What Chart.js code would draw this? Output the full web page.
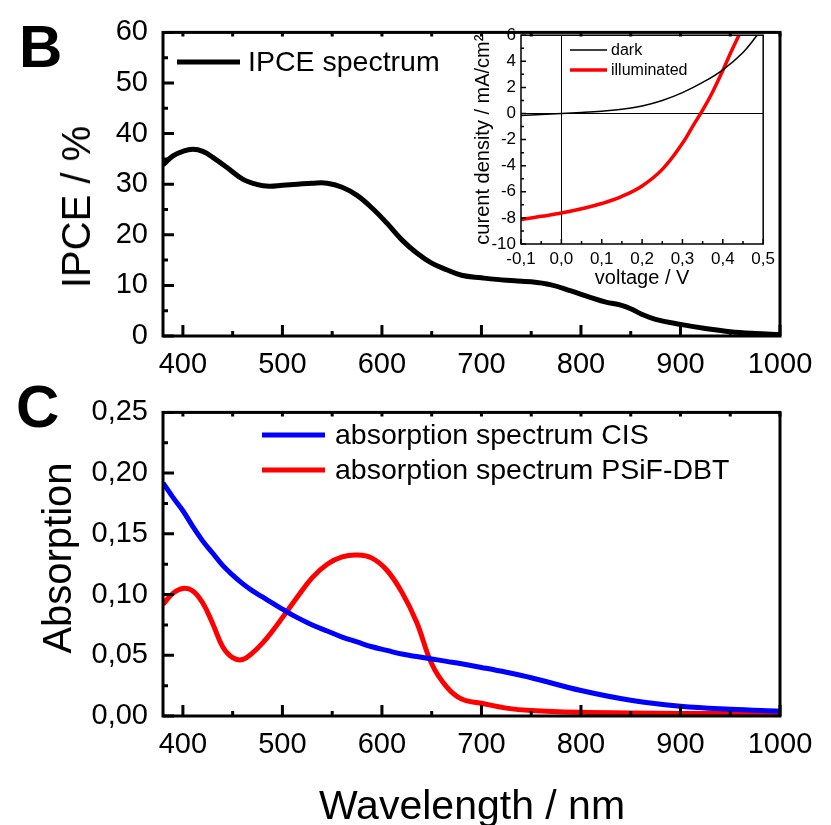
<!DOCTYPE html>
<html>
<head>
<meta charset="utf-8">
<script src="https://cdn.jsdelivr.net/npm/chart.js@4.4.1/dist/chart.umd.min.js"></script>
<style>
  html, body { margin: 0; padding: 0; background: #fff; }
  #wrap { position: relative; width: 831px; height: 825px; overflow: hidden; background: #fff; font-family: 'Liberation Sans', Arial, sans-serif; color: #000; }
  canvas { position: absolute; }
  .panel { position: absolute; font-weight: bold; font-size: 60px; line-height: 1; }
  .title { position: absolute; font-size: 40px; line-height: 1; white-space: nowrap; }
  .rot { transform: translate(-50%, -50%) rotate(-90deg); }
</style>
</head>
<body>
<div id="wrap">
  <canvas id="ipceChart" width="831" height="380" style="left:0;top:0"></canvas>
  <canvas id="absChart" width="831" height="445" style="left:0;top:380px"></canvas>
  <canvas id="jvChart" width="340" height="280" style="left:440px;top:20px"></canvas>
  <div class="panel" style="left:19px;top:17px">B</div>
  <div class="panel" style="left:16px;top:377px">C</div>
  <div class="title rot" style="left:76px;top:207px">IPCE / %</div>
  <div class="title rot" style="left:57px;top:558px">Absorption</div>
  <div class="title" style="left:472px;top:785px;font-size:41px;transform:translateX(-50%)">Wavelength / nm</div>
</div>
<script>
// ---- data ----
const wavelengthTicks = [400, 500, 600, 700, 800, 900, 1000];
const ipceTicks = [0, 10, 20, 30, 40, 50, 60];
const absTicks = [0, 0.05, 0.10, 0.15, 0.20, 0.25];
const absTickLabels = ['0,00', '0,05', '0,10', '0,15', '0,20', '0,25'];
const voltageTicks = [-0.1, 0, 0.1, 0.2, 0.3, 0.4, 0.5];
const voltageTickLabels = ['-0,1', '0,0', '0,1', '0,2', '0,3', '0,4', '0,5'];
const currentTicks = [-10, -8, -6, -4, -2, 0, 2, 4, 6];

const ipceWavelength = [380, 390, 400, 410, 420, 430, 445, 460, 475, 487, 500, 515, 530, 545, 560, 575, 590, 605, 620, 635, 650, 665, 680, 700, 725, 750, 770, 790, 810, 825, 840, 850, 860, 875, 900, 925, 950, 975, 1000];
const ipceValues = [33.8, 35.6, 36.5, 36.9, 36.5, 35.3, 33.2, 31.0, 29.9, 29.6, 29.8, 30.0, 30.2, 30.2, 29.4, 27.8, 25.3, 22.3, 19.0, 16.4, 14.4, 13.1, 12.0, 11.5, 11.0, 10.7, 10.1, 8.9, 7.6, 6.7, 6.1, 5.4, 4.4, 3.3, 2.3, 1.5, 0.85, 0.5, 0.3];

const absWavelength = [380, 390, 400, 410, 420, 430, 440, 450, 460, 470, 480, 490, 500, 515, 530, 545, 560, 575, 590, 605, 620, 635, 650, 665, 680, 700, 725, 750, 800, 850, 900, 950, 1000];
const absCIS = [0.192, 0.180, 0.169, 0.156, 0.144, 0.134, 0.124, 0.116, 0.109, 0.103, 0.098, 0.093, 0.088, 0.081, 0.075, 0.070, 0.065, 0.061, 0.057, 0.054, 0.051, 0.049, 0.047, 0.045, 0.043, 0.040, 0.036, 0.0315, 0.021, 0.013, 0.008, 0.0055, 0.004];
const absPSiF = [0.092, 0.101, 0.105, 0.103, 0.093, 0.076, 0.057, 0.048, 0.0465, 0.052, 0.060, 0.070, 0.081, 0.098, 0.114, 0.125, 0.131, 0.1325, 0.130, 0.120, 0.102, 0.077, 0.043, 0.024, 0.014, 0.0105, 0.0065, 0.0045, 0.003, 0.0025, 0.002, 0.002, 0.002];

const darkVoltage = [-0.1, -0.05, 0, 0.05, 0.1, 0.15, 0.2, 0.25, 0.3, 0.35, 0.4, 0.45, 0.485];
const darkCurrent = [-0.16, -0.08, 0, 0.08, 0.18, 0.32, 0.58, 1.0, 1.6, 2.38, 3.35, 4.68, 6.0];
const illumVoltage = [-0.1, -0.05, 0, 0.05, 0.1, 0.15, 0.2, 0.25, 0.3, 0.325, 0.35, 0.375, 0.4, 0.42, 0.44];
const illumCurrent = [-8.13, -7.88, -7.63, -7.3, -6.9, -6.35, -5.55, -4.28, -2.28, -1.0, 0.25, 1.67, 3.3, 4.7, 6.0];

const pts = (xs, ys) => xs.map((x, i) => ({ x: x, y: ys[i] }));
const FONT = "'Liberation Sans', Arial, sans-serif";
Chart.defaults.font.family = FONT;
Chart.defaults.color = '#000';

// box frame + inward ticks (minor ones in between the labelled ones)
const frameTicks = {
  id: 'frameTicks',
  afterDatasetsDraw(chart, args, o) {
    const { ctx, chartArea: a, scales: { x, y } } = chart;
    const isMajor = (scale, v) => scale.ticks.some(t => Math.abs(t.value - v) < 1e-9);
    ctx.save();
    ctx.strokeStyle = '#000';
    ctx.lineWidth = o.lw;
    ctx.beginPath();
    for (let n = Math.ceil(x.min / o.xMinor - 1e-9); n * o.xMinor <= x.max + 1e-9; n++) {
      const v = n * o.xMinor, px = x.getPixelForValue(v);
      const len = isMajor(x, v) ? o.major : o.minor;
      ctx.moveTo(px, a.bottom); ctx.lineTo(px, a.bottom - len);
      if (o.top) { ctx.moveTo(px, a.top); ctx.lineTo(px, a.top + o.top); }
    }
    for (let n = Math.ceil(y.min / o.yMinor - 1e-9); n * o.yMinor <= y.max + 1e-9; n++) {
      const v = n * o.yMinor, py = y.getPixelForValue(v);
      const len = isMajor(y, v) ? o.major : o.minor;
      ctx.moveTo(a.left, py); ctx.lineTo(a.left + len, py);
      if (o.right) { ctx.moveTo(a.right, py); ctx.lineTo(a.right - o.right, py); }
    }
    ctx.stroke();
    ctx.strokeRect(a.left, a.top, a.right - a.left, a.bottom - a.top);
    ctx.restore();
  }
};

// legend drawn inside the plot: short line + label per dataset
const lineLegend = {
  id: 'lineLegend',
  afterDraw(chart, args, o) {
    const ctx = chart.ctx;
    ctx.save();
    ctx.font = o.size + 'px ' + FONT;
    ctx.textBaseline = 'middle';
    ctx.fillStyle = '#000';
    chart.data.datasets.forEach((ds, i) => {
      const y = o.y + i * o.rowH;
      ctx.strokeStyle = ds.borderColor;
      ctx.lineWidth = ds.borderWidth;
      ctx.beginPath();
      ctx.moveTo(o.x, y);
      ctx.lineTo(o.x + o.len, y);
      ctx.stroke();
      ctx.fillText(ds.label, o.x + o.len + o.gap, y + 1);
    });
    ctx.restore();
  }
};

function lineSet(label, data, color, width) {
  return { label: label, data: data, borderColor: color, backgroundColor: color, borderWidth: width,
           pointRadius: 0, tension: 0.4, borderJoinStyle: 'round', fill: false };
}

function axis(min, max, ticks, labels, size, pad, fitFn) {
  return {
    type: 'linear', min: min, max: max,
    afterBuildTicks: s => { s.ticks = ticks.map(v => ({ value: v })); },
    afterFit: fitFn,
    grid: { display: false, drawTicks: false },
    border: { display: false },
    ticks: { font: { size: size }, color: '#000', padding: pad, autoSkip: false, maxRotation: 0,
             callback: v => labels[ticks.findIndex(t => Math.abs(t - v) < 1e-9)] }
  };
}

const baseOpts = { responsive: false, animation: false, devicePixelRatio: 1, events: [] };

// ---- B: IPCE ----
new Chart(document.getElementById('ipceChart'), {
  type: 'line',
  data: { datasets: [lineSet('IPCE spectrum', pts(ipceWavelength, ipceValues), '#000', 5)] },
  options: Object.assign({}, baseOpts, {
    layout: { padding: { left: 0, top: 22, right: 51, bottom: 0 } },
    scales: {
      x: axis(380, 1000, wavelengthTicks, wavelengthTicks.map(String), 29, 12, s => { s.height = 44; }),
      y: axis(0, 60, ipceTicks, ipceTicks.map(String), 29, 15, s => { s.width = 163; })
    },
    plugins: {
      legend: { display: false }, tooltip: { enabled: false },
      frameTicks: { lw: 3, xMinor: 50, yMinor: 5, major: 11, minor: 5, top: 4 },
      lineLegend: { x: 177, y: 62, len: 63, gap: 8, rowH: 35, size: 28.5 }
    }
  }),
  plugins: [frameTicks, lineLegend]
});

// ---- C: absorption ----
new Chart(document.getElementById('absChart'), {
  type: 'line',
  data: { datasets: [
    lineSet('absorption spectrum CIS', pts(absWavelength, absCIS), '#0000ff', 5),
    lineSet('absorption spectrum PSiF-DBT', pts(absWavelength, absPSiF), '#ff0000', 5)
  ] },
  options: Object.assign({}, baseOpts, {
    layout: { padding: { left: 0, top: 22, right: 51, bottom: 0 } },
    scales: {
      x: axis(380, 1000, wavelengthTicks, wavelengthTicks.map(String), 29, 12, s => { s.height = 109; }),
      y: axis(0, 0.25, absTicks, absTickLabels, 29, 15, s => { s.width = 163; })
    },
    plugins: {
      legend: { display: false }, tooltip: { enabled: false },
      frameTicks: { lw: 3, xMinor: 50, yMinor: 0.025, major: 11, minor: 5, top: 4 },
      lineLegend: { x: 262, y: 55, len: 63, gap: 10, rowH: 35, size: 28.5 }
    }
  }),
  plugins: [frameTicks, lineLegend]
});

// ---- inset: J-V curves ----
const zeroLine = { display: true, drawTicks: false, lineWidth: 1, color: c => (c.tick && c.tick.value === 0) ? '#000' : 'rgba(0,0,0,0)' };
const jvX = axis(-0.1, 0.5, voltageTicks, voltageTickLabels, 17, 5, s => { s.height = 56; });
jvX.title = { display: true, text: 'voltage / V', font: { size: 20 }, color: '#000', padding: { top: 0, bottom: 10 } };
jvX.grid = zeroLine;
const jvY = axis(-10, 6, currentTicks, currentTicks.map(String), 17, 5, s => { s.width = 81; });
jvY.title = { display: true, text: 'curent density / mA/cm\u00b2', font: { size: 20 }, color: '#000', padding: { top: 31, bottom: 0 } };
jvY.grid = zeroLine;

new Chart(document.getElementById('jvChart'), {
  type: 'line',
  data: { datasets: [
    lineSet('dark', pts(darkVoltage, darkCurrent), '#000', 1.5),
    lineSet('illuminated', pts(illumVoltage, illumCurrent), '#ff0000', 3.5)
  ] },
  options: Object.assign({}, baseOpts, {
    layout: { padding: { left: 0, top: 13, right: 15, bottom: 0 } },
    scales: { x: jvX, y: jvY },
    plugins: {
      legend: { display: false }, tooltip: { enabled: false },
      frameTicks: { lw: 1.5, xMinor: 0.05, yMinor: 1, major: 5, minor: 3 },
      lineLegend: { x: 130, y: 30, len: 37, gap: 4, rowH: 20, size: 16 }
    }
  }),
  plugins: [frameTicks, lineLegend]
});
</script>
</body>
</html>
